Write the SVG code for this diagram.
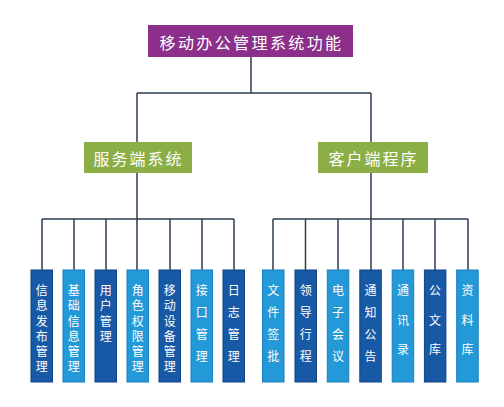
<svg xmlns="http://www.w3.org/2000/svg" width="504" height="407" viewBox="0 0 504 407">
<style>
.conn{stroke:#2b3d52;stroke-width:1.5;fill:none}
.title{fill:#8b2f8a}
.green{fill:#8cae46}
.dk{fill:#1759a5;stroke:#0f4384;stroke-width:1}
.lt{fill:#2399d7;stroke:#1a7dbd;stroke-width:1}
text{font-family:"Noto Sans CJK SC","Noto Sans",sans-serif;fill:#fff;text-anchor:middle;dominant-baseline:central}
.t1{font-size:16px;letter-spacing:2.4px}
.t2{font-size:16px;letter-spacing:2px}
.t3{font-size:12px}
</style>
<rect width="504" height="407" fill="#fff"/>
<g id="connectors">
<path class="conn" d="M251 57V93M137 93H371M137 93V142M371 93V142"/>
<path class="conn" d="M137 173V270M42 219H234M42 219V270M74 219V270M106 219V270M170 219V270M202 219V270M234 219V270"/>
<path class="conn" d="M371 173V270M273 219H468M273 219V270M305.5 219V270M338 219V270M403 219V270M435 219V270M468 219V270"/>
</g>
<g id="root"><rect class="title" x="148" y="25" width="205" height="32"/><text class="t1" x="251.5" y="41.5">移动办公管理系统功能</text></g>
<g id="server"><rect class="green" x="84" y="142" width="108" height="31"/><text class="t2" x="138.5" y="158">服务端系统</text></g>
<g id="client"><rect class="green" x="318" y="142" width="110" height="31"/><text class="t2" x="373.5" y="158">客户端程序</text></g>
<g class="t3">
<g id="n1"><rect class="dk" x="31" y="270" width="21.5" height="112"/><text x="41.8" y="289">信</text><text x="41.8" y="304">息</text><text x="41.8" y="320">发</text><text x="41.8" y="335">布</text><text x="41.8" y="350">管</text><text x="41.8" y="365">理</text></g>
<g id="n2"><rect class="lt" x="63" y="270" width="21.5" height="112"/><text x="73.8" y="289">基</text><text x="73.8" y="304">础</text><text x="73.8" y="320">信</text><text x="73.8" y="335">息</text><text x="73.8" y="350">管</text><text x="73.8" y="365">理</text></g>
<g id="n3"><rect class="dk" x="95" y="270" width="21.5" height="112"/><text x="105.8" y="289">用</text><text x="105.8" y="304">户</text><text x="105.8" y="320">管</text><text x="105.8" y="335">理</text></g>
<g id="n4"><rect class="lt" x="127" y="270" width="21.5" height="112"/><text x="137.8" y="289">角</text><text x="137.8" y="304">色</text><text x="137.8" y="320">权</text><text x="137.8" y="335">限</text><text x="137.8" y="350">管</text><text x="137.8" y="365">理</text></g>
<g id="n5"><rect class="dk" x="159" y="270" width="21.5" height="112"/><text x="169.8" y="289">移</text><text x="169.8" y="304">动</text><text x="169.8" y="320">设</text><text x="169.8" y="335">备</text><text x="169.8" y="350">管</text><text x="169.8" y="365">理</text></g>
<g id="n6"><rect class="lt" x="191" y="270" width="21.5" height="112"/><text x="201.8" y="289">接</text><text x="201.8" y="311">口</text><text x="201.8" y="333">管</text><text x="201.8" y="355">理</text></g>
<g id="n7"><rect class="dk" x="223" y="270" width="21.5" height="112"/><text x="233.8" y="289">日</text><text x="233.8" y="311">志</text><text x="233.8" y="333">管</text><text x="233.8" y="355">理</text></g>
<g id="m1"><rect class="lt" x="262.5" y="270" width="21.5" height="112"/><text x="273.2" y="289">文</text><text x="273.2" y="311">件</text><text x="273.2" y="333">签</text><text x="273.2" y="355">批</text></g>
<g id="m2"><rect class="dk" x="295" y="270" width="21.5" height="112"/><text x="305.7" y="289">领</text><text x="305.7" y="311">导</text><text x="305.7" y="333">行</text><text x="305.7" y="355">程</text></g>
<g id="m3"><rect class="lt" x="327.3" y="270" width="21.5" height="112"/><text x="338" y="289">电</text><text x="338" y="311">子</text><text x="338" y="333">会</text><text x="338" y="355">议</text></g>
<g id="m4"><rect class="dk" x="359.8" y="270" width="21.5" height="112"/><text x="370.5" y="289">通</text><text x="370.5" y="311">知</text><text x="370.5" y="333">公</text><text x="370.5" y="355">告</text></g>
<g id="m5"><rect class="lt" x="392.2" y="270" width="21.5" height="112"/><text x="403" y="289">通</text><text x="403" y="319">讯</text><text x="403" y="348">录</text></g>
<g id="m6"><rect class="dk" x="424.4" y="270" width="21.5" height="112"/><text x="435.1" y="289">公</text><text x="435.1" y="319">文</text><text x="435.1" y="348">库</text></g>
<g id="m7"><rect class="lt" x="456.7" y="270" width="21.5" height="112"/><text x="467.5" y="289">资</text><text x="467.5" y="319">料</text><text x="467.5" y="348">库</text></g>
</g>
</svg>
